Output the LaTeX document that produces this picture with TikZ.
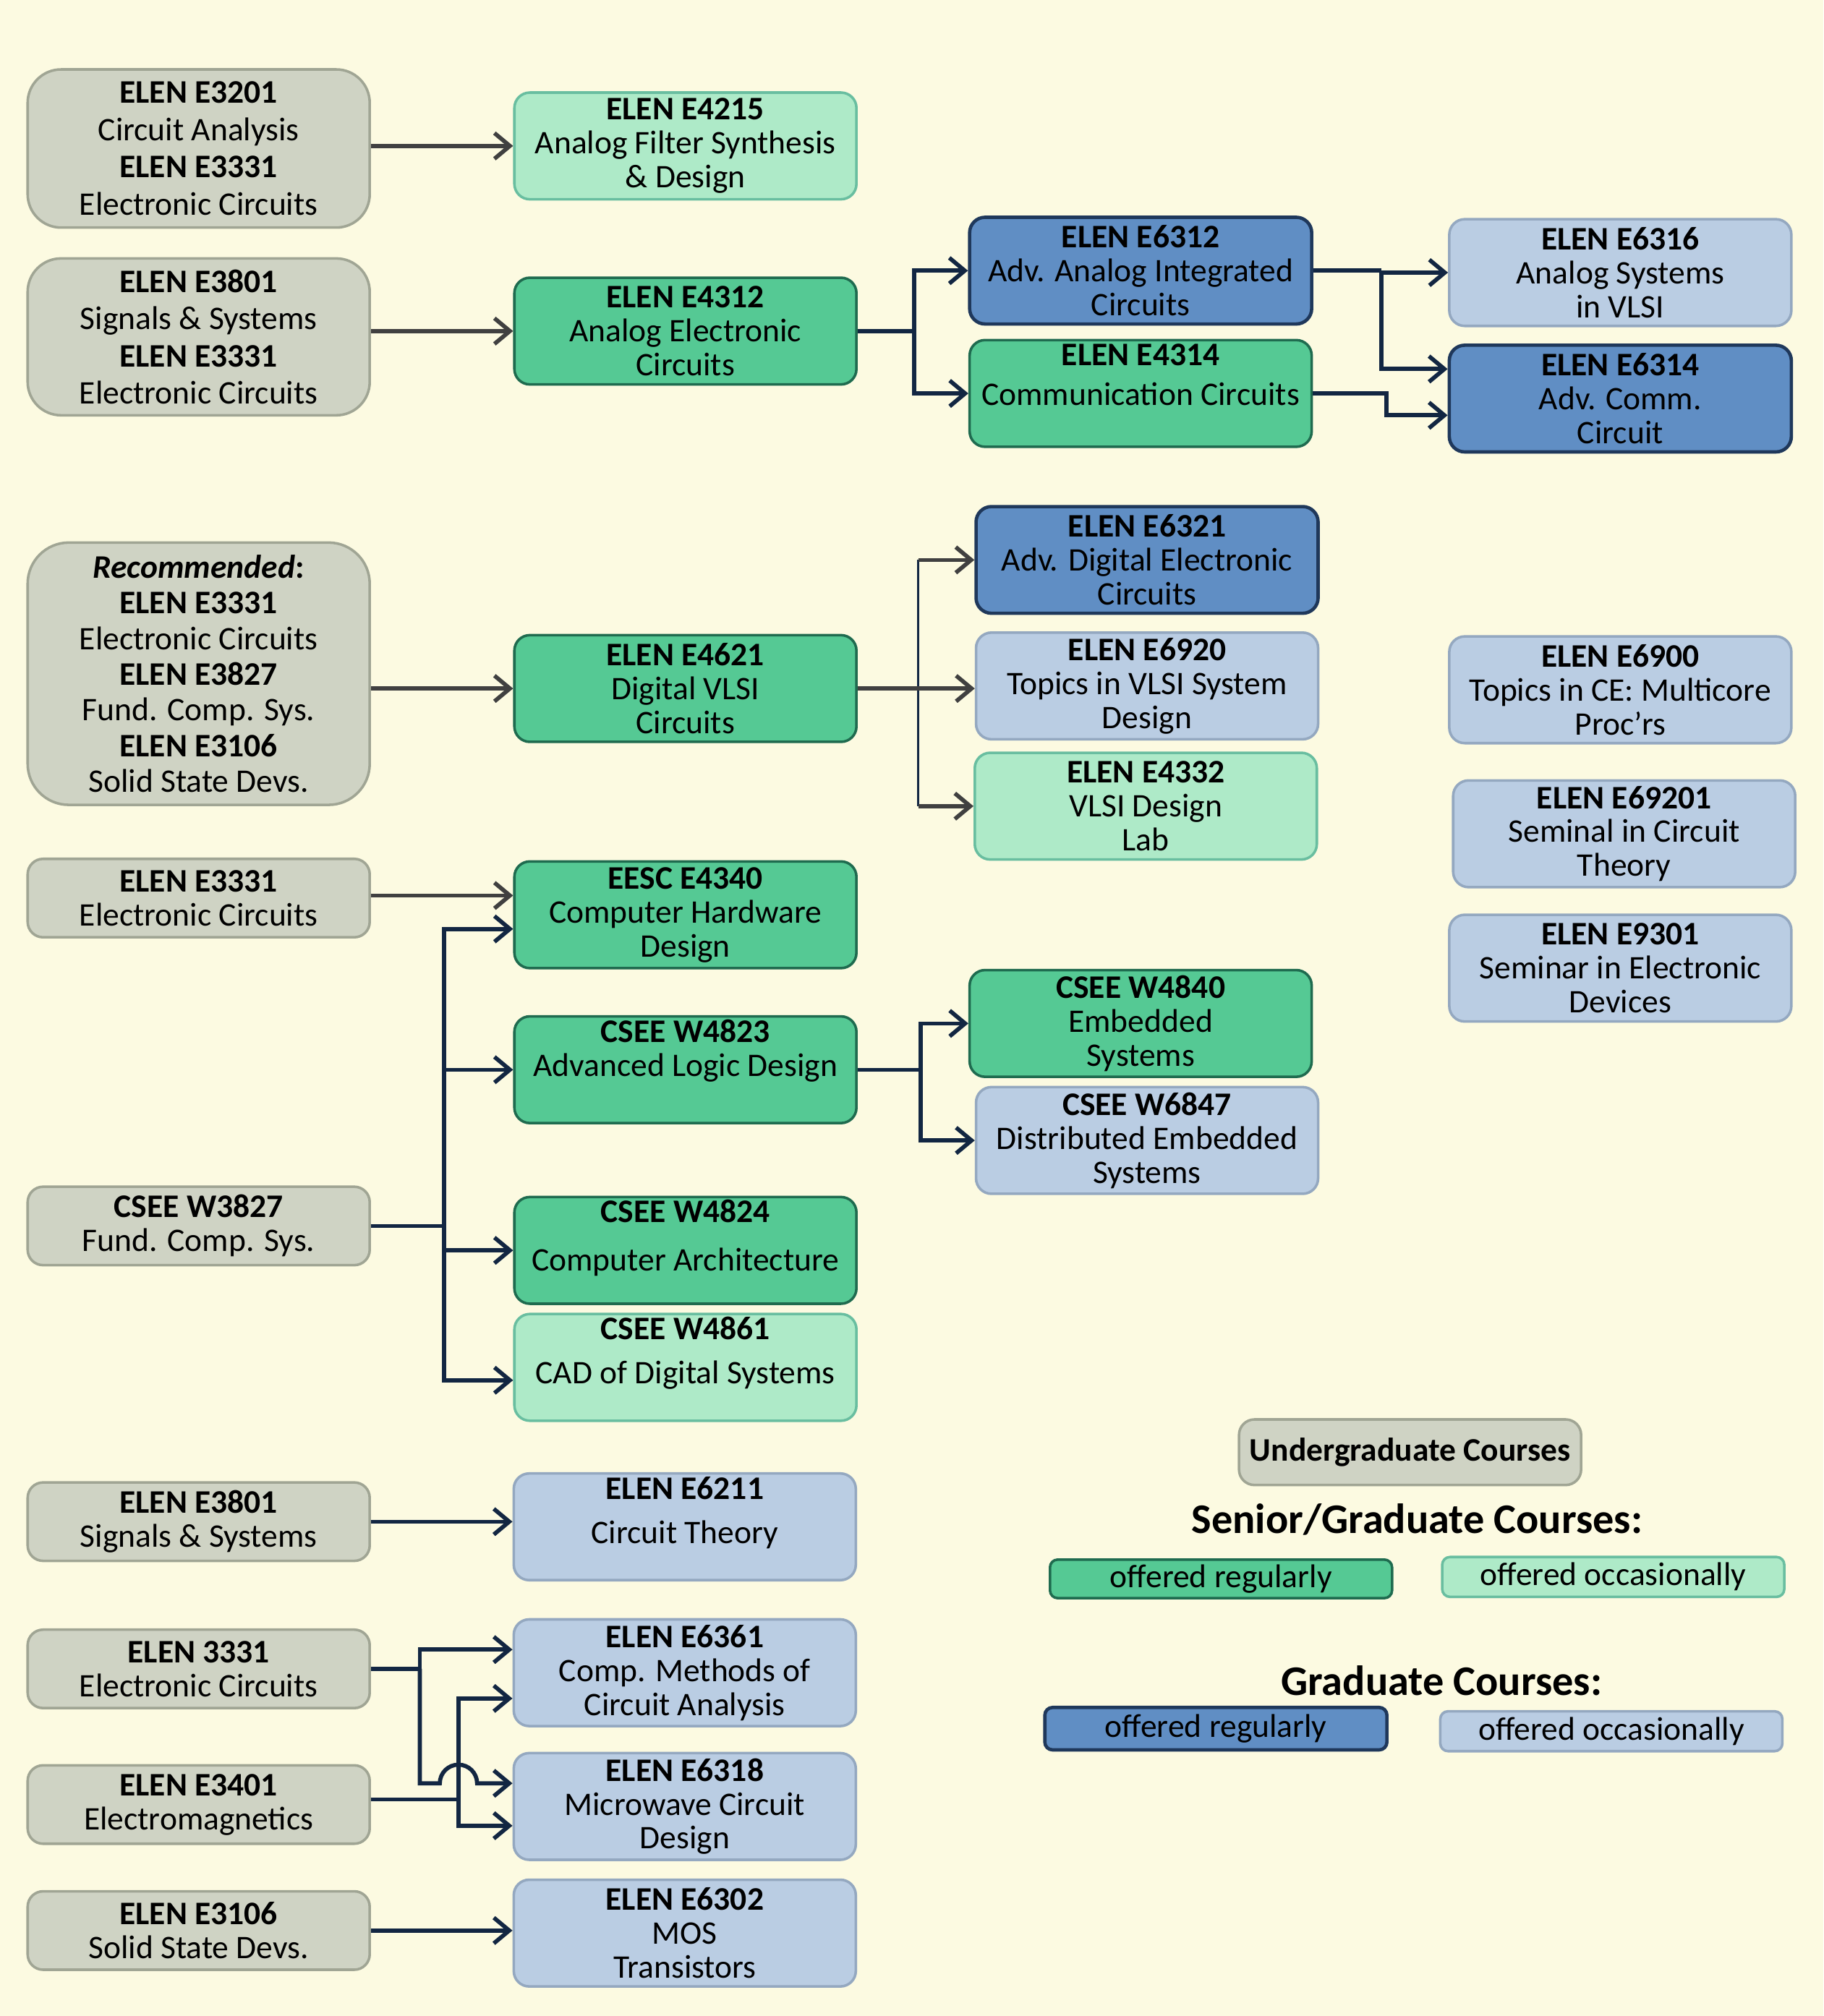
\documentclass[tikz,border=0pt]{standalone}
\usepackage{fontspec}
\setmainfont{Carlito}
\usetikzlibrary{arrows.meta,calc}
\definecolor{bgc}{RGB}{252,250,225}
\definecolor{ugF}{RGB}{207,211,196}
\definecolor{ugD}{RGB}{160,165,148}
\definecolor{srF}{RGB}{85,201,148}
\definecolor{srD}{RGB}{31,107,79}
\definecolor{soF}{RGB}{174,234,200}
\definecolor{soD}{RGB}{105,190,160}
\definecolor{grF}{RGB}{96,142,196}
\definecolor{grD}{RGB}{31,56,91}
\definecolor{goF}{RGB}{186,205,227}
\definecolor{goD}{RGB}{148,168,192}
\definecolor{arrG}{RGB}{64,64,64}
\definecolor{navy}{RGB}{18,38,66}
\tikzset{
  box/.style={rounded corners=6pt, line width=1pt, align=center, minimum width=133pt,
    minimum height=41.5pt, inner sep=0pt, font=\fontsize{12.8}{13.2}\selectfont},
  ug/.style={box, draw=ugD, fill=ugF, minimum height=30.5pt},
  sr/.style={box, draw=srD, fill=srF},
  so/.style={box, draw=soD, fill=soF},
  gr/.style={box, draw=grD, fill=grF, line width=1.3pt},
  go/.style={box, draw=goD, fill=goF},
  tipx/.style={-{Straight Barb[length=6pt,width=10pt,line width=1.6pt]}},
  garrow/.style={draw=arrG, line width=1.6pt, tipx},
  narrow/.style={draw=navy, line width=1.6pt, tipx},
  nline/.style={draw=navy, line width=1.6pt},
  nthin/.style={draw=navy, line width=1pt},
  head/.style={font=\fontsize{16.4}{18}\selectfont\bfseries},
}
\begin{document}
\begin{tikzpicture}[x=0.5pt,y=-0.5pt]
\fill[bgc] (0,0) rectangle (1418,1568);
\useasboundingbox (0,0) rectangle (1418,1568);

% undergraduate column
\node[ug, rounded corners=13pt, minimum height=61.5pt, font=\fontsize{12.8}{14.5}\selectfont] (u1) at (154.5,115.5)
  {\textbf{ELEN E3201}\\Circuit Analysis\\\textbf{ELEN E3331}\\Electronic Circuits};
\node[ug, rounded corners=13pt, minimum height=61pt, font=\fontsize{12.8}{14.5}\selectfont] (u2) at (154.5,262)
  {\textbf{ELEN E3801}\\Signals \& Systems\\\textbf{ELEN E3331}\\Electronic Circuits};
\node[ug, rounded corners=16pt, minimum height=102pt, font=\fontsize{12.8}{13.9}\selectfont] (u3) at (154.5,524)
  {\textbf{\textit{Recommended}:}\\\textbf{ELEN E3331}\\Electronic Circuits\\\textbf{ELEN E3827}\\Fund. Comp. Sys.\\\textbf{ELEN E3106}\\Solid State Devs.};
\node[ug] (u4) at (154.5,698.5) {\textbf{ELEN E3331}\\Electronic Circuits};
\node[ug] (u5) at (154.5,953.5) {\textbf{CSEE W3827}\\Fund. Comp. Sys.};
\node[ug] (u6) at (154.5,1183.5) {\textbf{ELEN E3801}\\Signals \& Systems};
\node[ug] (u7) at (154.5,1298) {\textbf{ELEN 3331}\\Electronic Circuits};
\node[ug] (u8) at (154.5,1403.5) {\textbf{ELEN E3401}\\Electromagnetics};
\node[ug] (u9) at (154.5,1501.5) {\textbf{ELEN E3106}\\Solid State Devs.};

% second column
\node[so] (s1) at (533,113.5) {\textbf{ELEN E4215}\\Analog Filter Synthesis\\\& Design};
\node[sr] (s2) at (533,257.5) {\textbf{ELEN E4312}\\Analog Electronic\\Circuits};
\node[sr] (s3) at (533,535.5) {\textbf{ELEN E4621}\\Digital VLSI\\Circuits};
\node[sr] (s4) at (533,711.5) {\textbf{EESC E4340}\\Computer Hardware\\Design};
\node[sr] (s5) at (533,832) {\textbf{CSEE W4823}\\Advanced Logic Design\\\strut};
\node[sr] (s6) at (533,972.5) {\textbf{CSEE W4824}\\[5.5pt]Computer Architecture\\[-5.5pt]\strut};
\node[so] (s7) at (533,1063.5) {\textbf{CSEE W4861}\\[4pt]CAD of Digital Systems\\[-4pt]\strut};
\node[go] (g1) at (532.5,1187.5) {\textbf{ELEN E6211}\\[4pt]Circuit Theory\\[-4pt]\strut};
\node[go] (g2) at (532.5,1301) {\textbf{ELEN E6361}\\Comp. Methods of\\Circuit Analysis};
\node[go] (g3) at (532.5,1405) {\textbf{ELEN E6318}\\Microwave Circuit\\Design};
\node[go] (g4) at (532.5,1503.5) {\textbf{ELEN E6302}\\MOS\\Transistors};

% third column
\node[gr] (e6312) at (887,210.5) {\textbf{ELEN E6312}\\Adv. Analog Integrated\\Circuits};
\node[sr] (e4314) at (887,306) {\textbf{ELEN E4314}\\[2.5pt]Communication Circuits\\[-2.5pt]\strut};
\node[gr] (e6321) at (892,435.5) {\textbf{ELEN E6321}\\Adv. Digital Electronic\\Circuits};
\node[go] (e6920) at (892,533.5) {\textbf{ELEN E6920}\\Topics in VLSI System\\Design};
\node[so] (e4332) at (891,627) {\textbf{ELEN E4332}\\VLSI Design\\Lab};
\node[sr] (w4840) at (887,796) {\textbf{CSEE W4840}\\Embedded\\Systems};
\node[go] (w6847) at (892,887) {\textbf{CSEE W6847}\\Distributed Embedded\\Systems};

% fourth column
\node[go] (e6316) at (1260,212) {\textbf{ELEN E6316}\\Analog Systems\\in VLSI};
\node[gr] (e6314) at (1260,310) {\textbf{ELEN E6314}\\Adv. Comm.\\Circuit};
\node[go] (e6900) at (1260,536.5) {\textbf{ELEN E6900}\\Topics in CE: Multicore\\Proc’rs};
\node[go] (e69201) at (1263,648.5) {\textbf{ELEN E69201}\\Seminal in Circuit\\Theory};
\node[go] (e9301) at (1260,753) {\textbf{ELEN E9301}\\Seminar in Electronic\\Devices};

% legend
\node[ug, minimum height=25.5pt] (lug) at (1096.5,1129.5) {\textbf{Undergraduate Courses}};
\node[head] (lh1) at (1102,1182) {Senior/Graduate Courses:};
\node[sr, minimum height=15pt, rounded corners=3pt] (lsr) at (949.5,1228) {offered regularly};
\node[so, minimum height=15.5pt, rounded corners=3pt] (lso) at (1254.5,1226.5) {offered occasionally};
\node[head] (lh2) at (1121,1307) {Graduate Courses:};
\node[gr, minimum height=16.5pt, rounded corners=3pt] (lgr) at (945.5,1344.5) {offered regularly};
\node[go, minimum height=15.5pt, rounded corners=3pt] (lgo) at (1253,1346.5) {offered occasionally};

% connectors: top
\draw[garrow] (u1.east |- s1.west) -- (s1.west);
\draw[garrow] (u2.east |- s2.west) -- (s2.west);
\draw[nline] (s2.east) -- ++(44,0) coordinate (t1);
\draw[narrow] (t1) |- (e6312.west);
\draw[narrow] (t1) |- (e4314.west);
\draw[nline] (e6312.east) -- ++(53,0) coordinate (t2);
\draw[narrow] (t2) |- (e6316.west);
\draw[narrow] (t2) |- ($(e6314.west)+(0,-23)$);
\draw[narrow] (e4314.east) -- ++(57,0) |- ($(e6314.west)+(0,13)$);

% VLSI
\draw[garrow] (u3.east |- s3.west) -- (s3.west);
\coordinate (t3) at ($(s3.east)+(47,0)$);
\draw[nthin] (t3 |- e6321.west) -- (t3 |- e4332.west);
\draw[garrow] (s3.east) -- (e6920.west |- s3.east);
\draw[garrow] (t3 |- e6321.west) -- (e6321.west);
\draw[garrow] (t3 |- e4332.west) -- (e4332.west);

% computer engineering
\draw[garrow] (u4.east |- {$(s4.west)+(0,-15)$}) -- ($(s4.west)+(0,-15)$);
\draw[nline] (u5.east) -- ++(57,0) coordinate (t4);
\draw[narrow] (t4) |- ($(s4.west)+(0,11)$);
\draw[narrow] (t4) |- (s5.west);
\draw[narrow] (t4) |- (s6.west);
\draw[narrow] (t4) |- ($(s7.west)+(0,10)$);
\draw[nline] (s5.east) -- ++(49,0) coordinate (t5);
\draw[narrow] (t5) |- (w4840.west);
\draw[narrow] (t5) |- (w6847.west);

% circuits (bottom)
\draw[narrow] (u6.east) -- (g1.west |- u6.east);
\coordinate (t6) at ($(u7.east)+(38,0)$);
\coordinate (t7) at ($(u8.east)+(68,-4)$);
\coordinate (h) at ($(g3.west)+(0,-18)$);
\draw[nline] (u7.east) -- (t6);
\draw[narrow] (t6) |- ($(g2.west)+(0,-18)$);
\draw[narrow] (t6) |- ($(t7 |- h)+(-14.5,0)$) arc[start angle=180, end angle=0, radius=7.25pt] -- (h);
\draw[nline] ($(u8.east)+(0,-4)$) -- (t7);
\draw[narrow] (t7) |- ($(g2.west)+(0,20)$);
\draw[narrow] (t7) |- ($(g3.west)+(0,15)$);
\draw[narrow] (u9.east) -- (g4.west |- u9.east);
\end{tikzpicture}
\end{document}
